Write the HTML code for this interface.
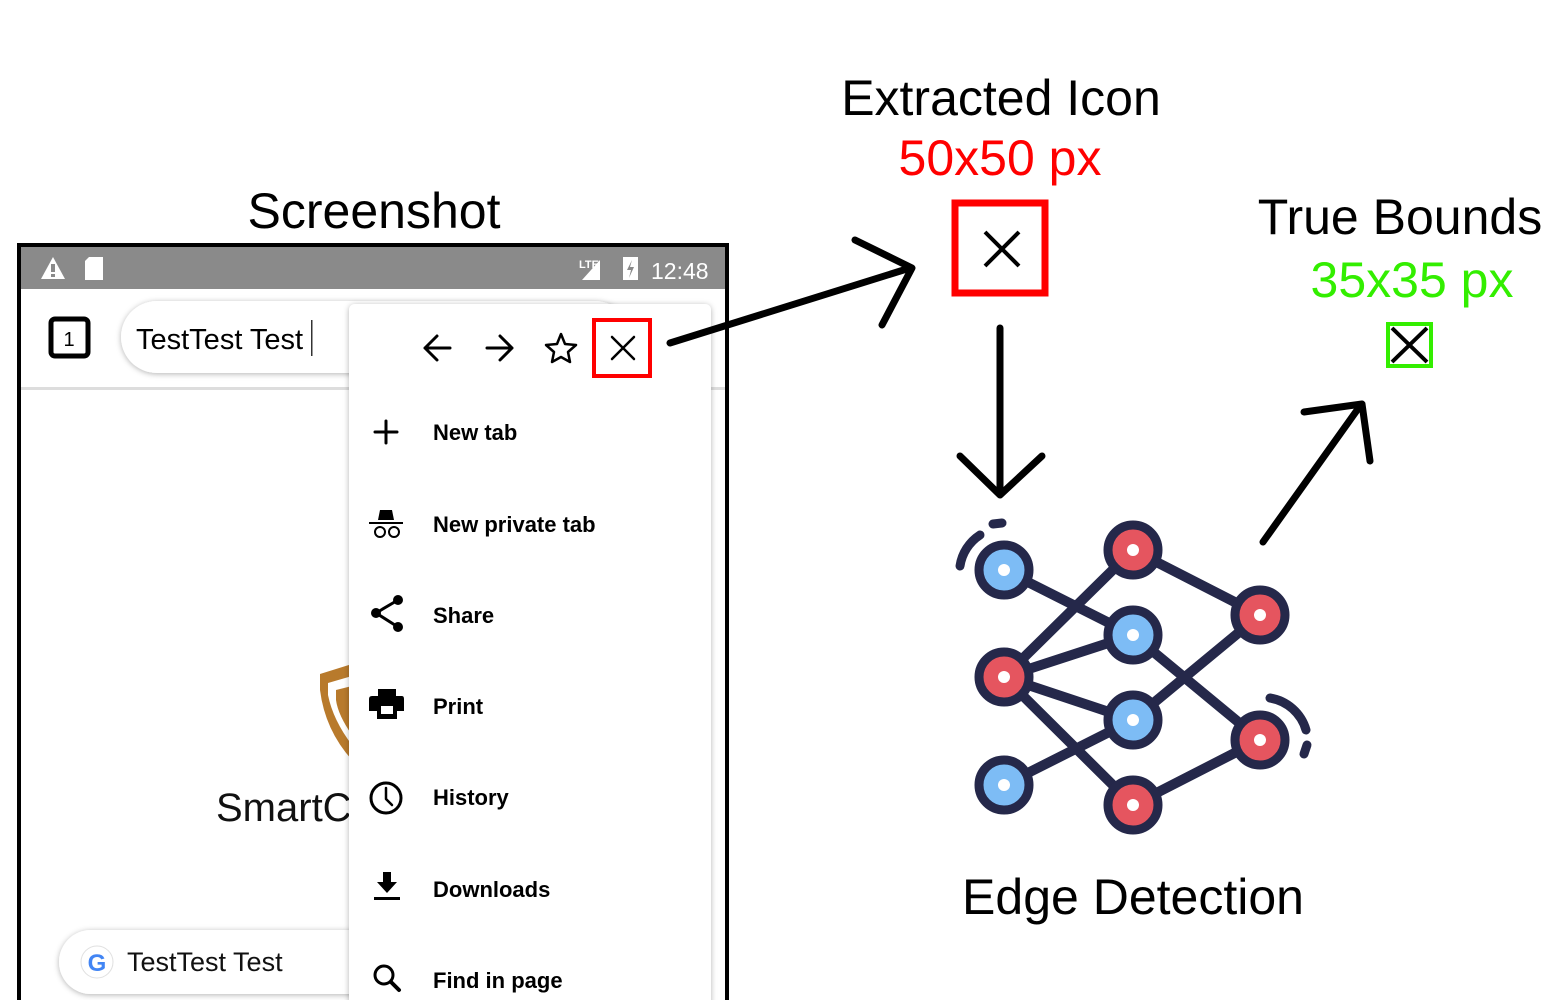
<!DOCTYPE html>
<html><head><meta charset="utf-8"><style>
html,body{margin:0;padding:0;background:#fff;}
svg{display:block;}
text{font-family:"Liberation Sans",sans-serif;}
</style></head><body>
<svg width="1545" height="1000" viewBox="0 0 1545 1000" xmlns="http://www.w3.org/2000/svg">
<defs>
<filter id="sh" x="-10%" y="-10%" width="120%" height="120%"><feDropShadow dx="0" dy="1" stdDeviation="3" flood-color="#000" flood-opacity="0.3"/></filter>
</defs>
<!-- titles -->
<text x="374" y="228" font-size="50" text-anchor="middle" fill="#000">Screenshot</text>
<text x="1001" y="115" font-size="50" text-anchor="middle" fill="#000">Extracted Icon</text>
<text x="1000" y="175" font-size="50" text-anchor="middle" fill="#ff0000">50x50 px</text>
<text x="1400" y="234" font-size="50" text-anchor="middle" fill="#000">True Bounds</text>
<text x="1412" y="297" font-size="50" text-anchor="middle" fill="#33ee00">35x35 px</text>
<text x="1133" y="914" font-size="50" text-anchor="middle" fill="#000">Edge Detection</text>

<!-- phone -->
<rect x="19" y="245" width="708" height="760" fill="#fff" stroke="#000" stroke-width="4"/>
<rect x="21" y="247" width="704" height="42" fill="#8a8a8a"/>
<polygon points="53,257 41,279 65,279" fill="#fff"/>
<rect x="51" y="264" width="4" height="8" fill="#8a8a8a"/><rect x="51" y="274" width="4" height="3" fill="#8a8a8a"/>
<path d="M89,257 H103 V280 H85 V261 Z" fill="#fff"/>
<text x="579" y="268" font-size="11" fill="#fff" font-weight="bold">LTE</text>
<polygon points="600,260 600,280 582,280" fill="#fff"/>
<rect x="623" y="257" width="15" height="23" fill="#fff"/>
<path d="M632,260 L627,270 H631 L629,278 L634,267 H630 Z" fill="#8a8a8a"/>
<text x="651" y="279" font-size="23" fill="#fff">12:48</text>
<rect x="21" y="289" width="704" height="99" fill="#fff"/>
<rect x="21" y="387" width="704" height="3" fill="#ddd"/>
<rect x="51" y="319" width="37" height="37" rx="4" fill="none" stroke="#000" stroke-width="5"/>
<text x="69" y="346" font-size="20" text-anchor="middle">1</text>
<rect x="121" y="301" width="510" height="72" rx="36" fill="#fff" filter="url(#sh)"/>
<text x="136" y="349" font-size="29" fill="#000">TestTest Test</text>
<rect x="311" y="320" width="1.5" height="36" fill="#333"/>
<!-- shield & SmartC -->
<path d="M320,674 L352,664 L352,760 Q325,730 320,690 Z" fill="#b87a2c"/>
<path d="M328,683 L352,676 L352,745 Q333,720 328,695 Z" fill="#fff"/>
<path d="M336,690 L352,686 L352,735 Q338,715 336,700 Z" fill="#b87a2c"/>
<text x="216" y="821" font-size="40" fill="#111">SmartC</text>
<!-- bottom search -->
<rect x="59" y="930" width="330" height="64" rx="32" fill="#fff" filter="url(#sh)"/>
<circle cx="97" cy="962" r="16" fill="#fff" stroke="#e0e0e0"/>
<text x="97" y="971" font-size="24" font-weight="bold" text-anchor="middle" fill="#4285f4">G</text>
<text x="127" y="971" font-size="27" fill="#111">TestTest Test</text>

<!-- menu -->
<rect x="349" y="304" width="362" height="720" rx="6" fill="#fff" filter="url(#sh)"/>
<g stroke="#000" stroke-width="3" fill="none" stroke-linecap="round" stroke-linejoin="round">
<path d="M450,348 H425 M437,336 L425,348 L437,360"/>
<path d="M487,348 H512 M500,336 L512,348 L500,360"/>
<path d="M561,334 L565,344 L576,345 L568,352 L570,362 L561,357 L552,362 L554,352 L546,345 L557,344 Z" stroke-width="2.5"/>
<path d="M612,337 L634,359 M634,337 L612,359" stroke-width="2.5"/>
<path d="M386,421 V443 M375,432 H397"/>
<circle cx="386" cy="798" r="15"/>
<path d="M386,788 V799 L392,805" stroke-width="2.5"/>
<circle cx="384" cy="975" r="9"/>
<path d="M391,982 L399,990" stroke-width="4"/>
<circle cx="380" cy="532" r="5" stroke-width="2"/><circle cx="394" cy="532" r="5" stroke-width="2"/>
</g>
<rect x="594" y="320" width="56" height="56" fill="none" stroke="#ff0000" stroke-width="4"/>
<path d="M378,520 L380,510 H392 L394,520 Z M369,522 H403 V524 H369 Z" fill="#000"/>
<g fill="#000"><circle cx="398" cy="600" r="5"/><circle cx="376" cy="613" r="5"/><circle cx="398" cy="627" r="5"/></g>
<path d="M398,600 L376,613 L398,627" stroke="#000" stroke-width="3" fill="none"/>
<path d="M378,689 H396 V696 H402 Q404,696 404,699 V711 H397 V719 H377 V711 H369 V699 Q369,696 372,696 H378 Z" fill="#000"/>
<rect x="381" y="706" width="12" height="8" fill="#fff"/>
<path d="M383,872 H391 V882 H397 L387,893 L377,882 H383 Z" fill="#000"/>
<rect x="374" y="897" width="26" height="3" fill="#000"/>
<g font-size="22" font-weight="bold" fill="#000">
<text x="433" y="440">New tab</text>
<text x="433" y="532">New private tab</text>
<text x="433" y="623">Share</text>
<text x="433" y="714">Print</text>
<text x="433" y="805">History</text>
<text x="433" y="897">Downloads</text>
<text x="433" y="988">Find in page</text>
</g>

<!-- extracted icon -->
<rect x="955" y="203" width="90" height="90" fill="none" stroke="#ff0000" stroke-width="7"/>
<path d="M985,232 L1019,266 M1019,232 L985,266" stroke="#000" stroke-width="4"/>
<!-- true bounds -->
<rect x="1388" y="324" width="43" height="42" fill="none" stroke="#33ee00" stroke-width="4"/>
<path d="M1392,328 L1427,362 M1427,328 L1392,362" stroke="#000" stroke-width="4"/>

<!-- arrows -->
<g stroke="#000" stroke-width="7" fill="none" stroke-linecap="round" stroke-linejoin="round">
<path d="M670,343 L910,268"/>
<path d="M855,240 L912,268 L882,325"/>
<path d="M1000,328 V494"/>
<path d="M960,456 L1000,495 L1042,456"/>
<path d="M1263,542 L1360,406"/>
<path d="M1304,412 L1362,404 L1370,461"/>
</g>

<!-- network -->
<g stroke="#25284a" stroke-width="10" fill="none" stroke-linecap="round">
<path d="M1004,570 L1133,635 M1004,677 L1133,550 M1004,677 L1133,635 M1004,677 L1133,720 M1004,677 L1133,805 M1004,785 L1133,720 M1133,550 L1260,615 M1133,635 L1260,740 M1133,720 L1260,615 M1133,805 L1260,740"/>
<path d="M960,566 A45,45 0 0 1 980,535" stroke-width="9"/>
<path d="M993,524 L1002,523" stroke-width="9"/>
<path d="M1270,698 A45,45 0 0 1 1306,730" stroke-width="9"/>
<path d="M1307,745 L1304,754" stroke-width="9"/>
</g>
<g stroke="#25284a" stroke-width="9">
<circle cx="1004" cy="570" r="25" fill="#7dbcf5"/>
<circle cx="1133" cy="635" r="25" fill="#7dbcf5"/>
<circle cx="1133" cy="720" r="25" fill="#7dbcf5"/>
<circle cx="1004" cy="785" r="25" fill="#7dbcf5"/>
<circle cx="1133" cy="550" r="25" fill="#e5555f"/>
<circle cx="1004" cy="677" r="25" fill="#e5555f"/>
<circle cx="1260" cy="615" r="25" fill="#e5555f"/>
<circle cx="1260" cy="740" r="25" fill="#e5555f"/>
<circle cx="1133" cy="805" r="25" fill="#e5555f"/>
</g>
<g fill="#fff">
<circle cx="1004" cy="570" r="6"/><circle cx="1133" cy="635" r="6"/><circle cx="1133" cy="720" r="6"/><circle cx="1004" cy="785" r="6"/>
<circle cx="1133" cy="550" r="6"/><circle cx="1004" cy="677" r="6"/><circle cx="1260" cy="615" r="6"/><circle cx="1260" cy="740" r="6"/><circle cx="1133" cy="805" r="6"/>
</g>
</svg>
</body></html>
